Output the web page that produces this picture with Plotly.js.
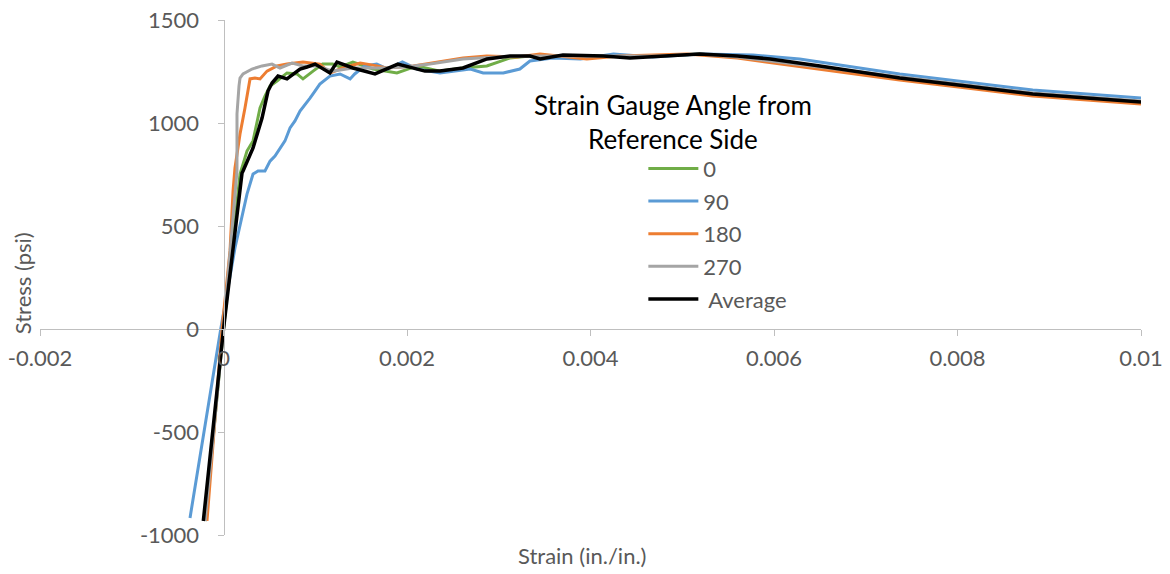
<!DOCTYPE html>
<html>
<head>
<meta charset="utf-8">
<script src="https://cdn.plot.ly/plotly-3.0.1.min.js"></script>
<style>html,body{margin:0;padding:0;background:#fff;}#chart{width:1170px;height:574px;}</style>
</head>
<body>
<div id="chart"></div>
<script>
// ---- Data (strain in./in., stress psi) ----
const seriesNames = ["0", "90", "180", "270", "Average"];

const strain0 = [-0.0002, 0, 0.00018, 0.000256, 0.000322, 0.000398, 0.000452, 0.000507, 0.000583, 0.000692, 0.000801, 0.000866, 0.000976, 0.00108, 0.00119, 0.00127, 0.00141, 0.00163, 0.00189, 0.00211, 0.00236, 0.00261, 0.00287, 0.00312, 0.00334, 0.0037, 0.00414, 0.00476, 0.00519, 0.0056, 0.0065, 0.00737, 0.0081, 0.00882, 0.01];
const stress0 = [-932, 0, 752, 864, 913, 1073, 1131, 1180, 1204, 1243, 1238, 1214, 1252, 1286, 1286, 1272, 1296, 1262, 1243, 1277, 1252, 1267, 1277, 1315, 1325, 1325, 1325, 1325, 1335, 1320, 1272, 1218, 1180, 1141, 1102];

const strain90 = [-0.000365, -0.00003, 0.000125, 0.000256, 0.000322, 0.000376, 0.000452, 0.000507, 0.000561, 0.000616, 0.00067, 0.000725, 0.000779, 0.000834, 0.000888, 0.000943, 0.000997, 0.00105, 0.00116, 0.00127, 0.00138, 0.00143, 0.00154, 0.00167, 0.00179, 0.00195, 0.00211, 0.00236, 0.00269, 0.00283, 0.00305, 0.00323, 0.00334, 0.00359, 0.00389, 0.00425, 0.00468, 0.00519, 0.00577, 0.00628, 0.00737, 0.0081, 0.00882, 0.01];
const stress90 = [-917, 0, 393, 655, 752, 767, 767, 815, 840, 879, 913, 976, 1010, 1058, 1087, 1121, 1155, 1189, 1228, 1238, 1214, 1238, 1277, 1286, 1262, 1296, 1262, 1243, 1262, 1243, 1243, 1262, 1301, 1315, 1311, 1335, 1320, 1335, 1330, 1311, 1238, 1199, 1160, 1121];

const strain180 = [-0.00018, -0.000016, 0.000071, 0.000104, 0.000125, 0.00018, 0.000234, 0.000267, 0.000289, 0.000343, 0.000398, 0.000474, 0.000583, 0.000692, 0.000866, 0.00105, 0.00116, 0.0013, 0.00149, 0.00163, 0.00178, 0.00207, 0.00236, 0.00261, 0.00287, 0.0032, 0.00345, 0.00367, 0.00396, 0.00432, 0.00505, 0.0056, 0.0065, 0.00737, 0.0081, 0.00882, 0.01];
const stress180 = [-932, 0, 379, 670, 782, 947, 1073, 1170, 1214, 1218, 1214, 1252, 1277, 1286, 1296, 1286, 1243, 1267, 1291, 1281, 1267, 1277, 1296, 1315, 1325, 1320, 1335, 1325, 1311, 1325, 1335, 1315, 1262, 1209, 1170, 1131, 1092];

const strain270 = [-0.0002, 0, 0.000147, 0.000147, 0.000169, 0.00018, 0.000213, 0.000311, 0.00042, 0.000529, 0.000616, 0.000747, 0.000866, 0.00102, 0.00119, 0.00141, 0.00171, 0.00198, 0.00225, 0.00261, 0.00298, 0.00334, 0.0037, 0.00414, 0.00476, 0.00519, 0.0056, 0.0065, 0.00737, 0.0081, 0.00882, 0.01];
const stress270 = [-932, 0, 767, 1044, 1180, 1218, 1238, 1262, 1277, 1286, 1267, 1291, 1277, 1277, 1252, 1267, 1267, 1272, 1286, 1311, 1320, 1325, 1325, 1325, 1325, 1335, 1320, 1272, 1223, 1184, 1146, 1107];

const strainAvg = [-0.00022, 0, 0.000202, 0.000213, 0.000322, 0.00042, 0.000485, 0.000529, 0.000594, 0.000692, 0.000779, 0.000834, 0.00091, 0.000998, 0.00116, 0.001237, 0.001411, 0.001651, 0.0019, 0.002196, 0.00236, 0.00261, 0.002872, 0.003123, 0.00334, 0.00345, 0.0037, 0.00414, 0.00443, 0.00476, 0.00519, 0.0056, 0.00596, 0.0065, 0.00737, 0.0081, 0.00882, 0.01];
const stressAvg = [-932, 0, 757, 767, 879, 1024, 1155, 1194, 1228, 1214, 1243, 1262, 1272, 1286, 1243, 1296, 1267, 1238, 1286, 1252, 1252, 1267, 1311, 1325, 1325, 1311, 1330, 1325, 1315, 1325, 1335, 1325, 1311, 1277, 1218, 1180, 1141, 1102];

const xTickVals = [-0.002, 0, 0.002, 0.004, 0.006, 0.008, 0.01];
const xTickText = ["-0.002", "0", "0.002", "0.004", "0.006", "0.008", "0.01"];
const yTickVals = [-1000, -500, 0, 500, 1000, 1500];
const yTickText = ["-1000", "-500", "0", "500", "1000", "1500"];

const colors = ["#70AD47", "#5B9BD5", "#ED7D31", "#A5A5A5", "#000000"];
const xs = [strain0, strain90, strain180, strain270, strainAvg];
const ys = [stress0, stress90, stress180, stress270, stressAvg];

const FONT = "Lato, 'Open Sans', sans-serif";
const FS = 22;

const traces = seriesNames.map((n, i) => ({
  type: "scatter",
  mode: "lines",
  name: i === 4 ? " " + n : n,
  x: xs[i],
  y: ys[i],
  legendgroup: "g" + i,
  line: {color: colors[i], width: i === 4 ? 3.5 : 3}
}));

const layout = {
  width: 1170,
  height: 574,
  margin: {l: 40, r: 29, t: 20, b: 39},
  paper_bgcolor: "#ffffff",
  plot_bgcolor: "#ffffff",
  font: {family: FONT, size: FS, color: "#595959"},
  showlegend: true,
  legend: {
    x: 0.548, y: 0.752, xanchor: "left", yanchor: "top",
    bgcolor: "rgba(0,0,0,0)",
    itemwidth: 50,
    tracegroupgap: 1,
    font: {family: FONT, size: FS, color: "#595959"}
  },
  xaxis: {
    range: [-0.002, 0.01],
    anchor: "free", position: 0.4,
    tickvals: xTickVals, ticktext: xTickText,
    showgrid: false, zeroline: false,
    showline: true, linecolor: "#BFBFBF", linewidth: 1,
    ticks: "outside", ticklen: 6, tickcolor: "#BFBFBF",
    ticklabelstandoff: 4,
    tickfont: {family: FONT, size: FS, color: "#595959"}
  },
  yaxis: {
    range: [-1000, 1500],
    anchor: "free", position: 1/6,
    tickvals: yTickVals, ticktext: yTickText,
    showgrid: false, zeroline: false,
    showline: true, linecolor: "#BFBFBF", linewidth: 1,
    ticks: "outside", ticklen: 6, tickcolor: "#BFBFBF",
    ticklabelstandoff: 14,
    tickfont: {family: FONT, size: FS, color: "#595959"}
  },
  annotations: [
    {text: "Stress (psi)", xref: "paper", yref: "paper", x: -0.0163, y: 0.489,
     textangle: -90, showarrow: false, xanchor: "center", yanchor: "middle",
     font: {family: FONT, size: FS, color: "#595959"}},
    {text: "Strain (in./in.)", xref: "paper", yref: "paper", x: 0.492, y: -0.039,
     showarrow: false, xanchor: "center", yanchor: "middle",
     font: {family: FONT, size: FS, color: "#595959"}},
    {text: "Strain Gauge Angle from<br>Reference Side", xref: "paper", yref: "paper",
     x: 0.575, y: 0.802, showarrow: false, xanchor: "center", yanchor: "middle",
     align: "center",
     font: {family: FONT, size: 26, color: "#000000"}}
  ]
};

Plotly.newPlot("chart", traces, layout, {displayModeBar: false, staticPlot: true});
</script>
</body>
</html>
